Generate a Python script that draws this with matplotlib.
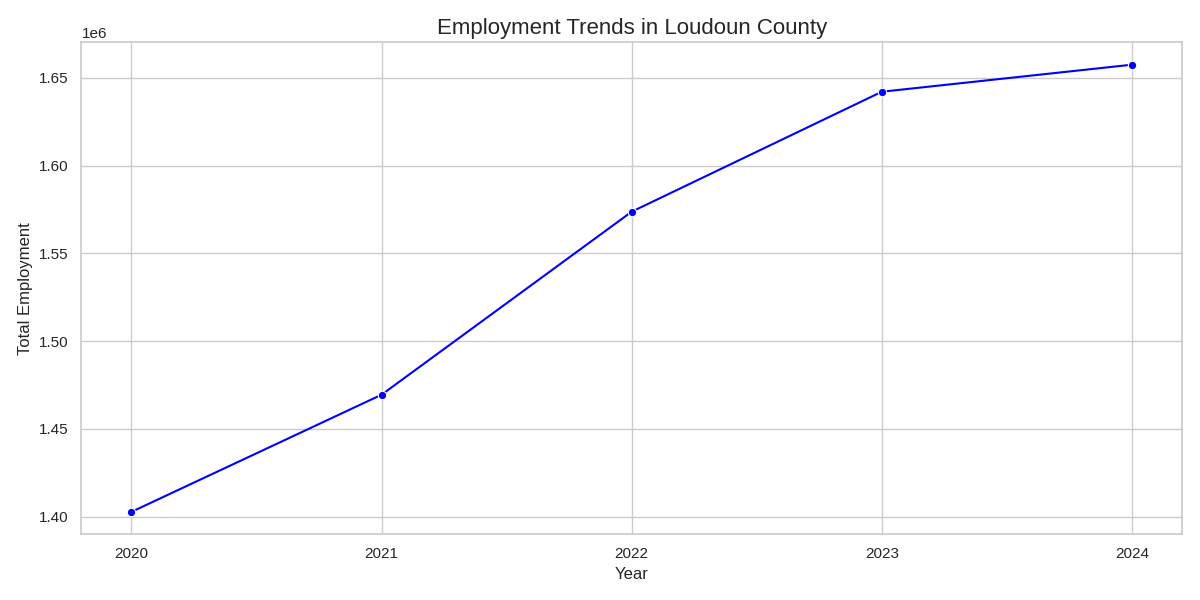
import matplotlib
matplotlib.use("Agg")
import matplotlib.pyplot as plt
import seaborn as sns

years = [2020, 2021, 2022, 2023, 2024]
employment = [1402800, 1469500, 1573700, 1642000, 1657400]


def plot_employment():
    sns.set_theme(style="whitegrid")
    plt.rcParams["font.family"] = ["Liberation Sans", "DejaVu Sans"]
    plt.figure(figsize=(12, 6))

    sns.lineplot(x=years, y=employment, marker="o", color="blue")

    plt.title("Employment Trends in Loudoun County", fontsize=16)
    plt.xlabel("Year")
    plt.ylabel("Total Employment")
    plt.xticks(years)

    plt.tight_layout()
    plt.savefig("out.png", dpi=100)


if __name__ == "__main__":
    plot_employment()
